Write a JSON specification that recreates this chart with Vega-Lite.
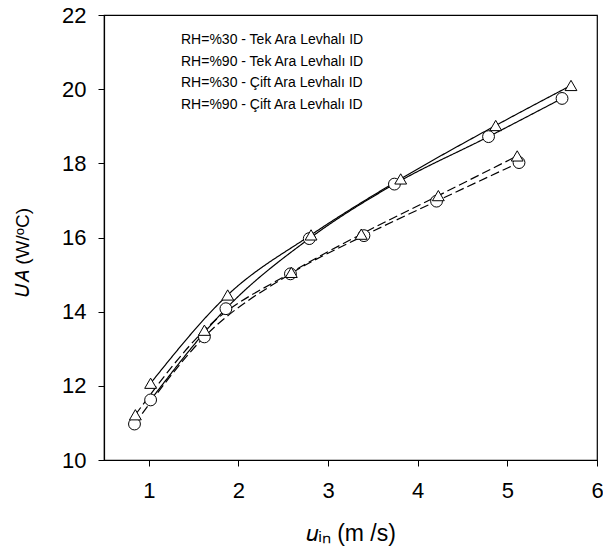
{
  "$schema": "https://vega.github.io/schema/vega-lite/v6.json",
  "width": 493,
  "height": 445,
  "autosize": {"type": "none"},
  "padding": {"left": 104, "top": 15, "right": 6, "bottom": 97},
  "background": "white",
  "config": {
    "font": "Liberation Sans",
    "view": {"stroke": "black", "strokeWidth": 1.2},
    "axis": {
      "grid": false,
      "domainColor": "black",
      "domainWidth": 1.2,
      "tickColor": "black",
      "tickWidth": 1,
      "tickSize": 6,
      "labelColor": "black",
      "titleColor": "black",
      "labelFont": "Liberation Sans",
      "titleFont": "Liberation Sans",
      "labelFontSize": 22,
      "titleFontWeight": "normal",
      "labelFlush": false,
      "labelOverlap": false
    }
  },
  "data": {
    "values": [
      {"series": "RH=%30 - Tek Ara Levhalı ID", "u": 1.02, "ua": 11.62},
      {"series": "RH=%30 - Tek Ara Levhalı ID", "u": 1.86, "ua": 14.08},
      {"series": "RH=%30 - Tek Ara Levhalı ID", "u": 2.79, "ua": 15.97},
      {"series": "RH=%30 - Tek Ara Levhalı ID", "u": 3.74, "ua": 17.44},
      {"series": "RH=%30 - Tek Ara Levhalı ID", "u": 4.79, "ua": 18.72},
      {"series": "RH=%30 - Tek Ara Levhalı ID", "u": 5.61, "ua": 19.75},
      {"series": "RH=%90 - Tek Ara Levhalı ID", "u": 1.02, "ua": 12.07},
      {"series": "RH=%90 - Tek Ara Levhalı ID", "u": 1.88, "ua": 14.45},
      {"series": "RH=%90 - Tek Ara Levhalı ID", "u": 2.81, "ua": 16.07},
      {"series": "RH=%90 - Tek Ara Levhalı ID", "u": 3.81, "ua": 17.58},
      {"series": "RH=%90 - Tek Ara Levhalı ID", "u": 4.87, "ua": 19.02},
      {"series": "RH=%90 - Tek Ara Levhalı ID", "u": 5.71, "ua": 20.1},
      {"series": "RH=%30 - Çift Ara Levhalı ID", "u": 0.84, "ua": 10.97},
      {"series": "RH=%30 - Çift Ara Levhalı ID", "u": 1.62, "ua": 13.32},
      {"series": "RH=%30 - Çift Ara Levhalı ID", "u": 2.58, "ua": 15.02},
      {"series": "RH=%30 - Çift Ara Levhalı ID", "u": 3.4, "ua": 16.05},
      {"series": "RH=%30 - Çift Ara Levhalı ID", "u": 4.21, "ua": 16.98},
      {"series": "RH=%30 - Çift Ara Levhalı ID", "u": 5.13, "ua": 18.02},
      {"series": "RH=%90 - Çift Ara Levhalı ID", "u": 0.85, "ua": 11.22},
      {"series": "RH=%90 - Çift Ara Levhalı ID", "u": 1.62, "ua": 13.5},
      {"series": "RH=%90 - Çift Ara Levhalı ID", "u": 2.59, "ua": 15.06},
      {"series": "RH=%90 - Çift Ara Levhalı ID", "u": 3.37, "ua": 16.09},
      {"series": "RH=%90 - Çift Ara Levhalı ID", "u": 4.23, "ua": 17.13},
      {"series": "RH=%90 - Çift Ara Levhalı ID", "u": 5.11, "ua": 18.2}
    ]
  },
  "encoding": {
    "x": {
      "field": "u",
      "type": "quantitative",
      "scale": {"domain": [0.5, 6], "nice": false, "zero": false},
      "axis": {
        "values": [1, 2, 3, 4, 5, 6],
        "title": "𝑢ᵢₙ (m /s)",
        "titleFontSize": 23,
        "labelPadding": 14,
        "titlePadding": 21
      }
    },
    "y": {
      "field": "ua",
      "type": "quantitative",
      "scale": {"domain": [10, 22], "nice": false, "zero": false},
      "axis": {
        "values": [10, 12, 14, 16, 18, 20, 22],
        "title": "𝑈𝐴 (W/ᵒC)",
        "titleFontSize": 19,
        "titleY": 237,
        "labelPadding": 12,
        "titlePadding": 29
      }
    }
  },
  "layer": [
    {
      "mark": {"type": "line", "interpolate": "monotone", "color": "black", "strokeWidth": 1.2},
      "encoding": {
        "strokeDash": {
          "field": "series",
          "type": "nominal",
          "scale": {
            "domain": ["RH=%30 - Tek Ara Levhalı ID", "RH=%90 - Tek Ara Levhalı ID", "RH=%30 - Çift Ara Levhalı ID", "RH=%90 - Çift Ara Levhalı ID"],
            "range": [[1, 0], [1, 0], [9, 4], [9, 4]]
          },
          "legend": null
        }
      }
    },
    {
      "mark": {"type": "point", "filled": true, "fill": "white", "stroke": "black", "strokeWidth": 1, "size": 140, "opacity": 1},
      "encoding": {
        "shape": {
          "field": "series",
          "type": "nominal",
          "scale": {
            "domain": ["RH=%30 - Tek Ara Levhalı ID", "RH=%90 - Tek Ara Levhalı ID", "RH=%30 - Çift Ara Levhalı ID", "RH=%90 - Çift Ara Levhalı ID"],
            "range": ["circle", "triangle-up", "circle", "triangle-up"]
          },
          "legend": null
        }
      }
    },
    {
      "mark": {"type": "point", "filled": true, "fill": "white", "stroke": "black", "strokeWidth": 1, "size": 0, "opacity": 1},
      "encoding": {
        "shape": {
          "field": "series",
          "type": "nominal",
          "scale": {
            "domain": ["RH=%30 - Tek Ara Levhalı ID", "RH=%90 - Tek Ara Levhalı ID", "RH=%30 - Çift Ara Levhalı ID", "RH=%90 - Çift Ara Levhalı ID"],
            "range": [
              "M-4.2,0H-1M1,0H4.2M1,0A1,1,0,1,1,-1,0A1,1,0,1,1,1,0Z",
              "M-4.2,0.38H-0.75M0.75,0.38H4.2M-1,0.83L1,0.83L0,-1Z",
              "M-4.2,0H-2.6M1.4,0H3.4M1,0A1,1,0,1,1,-1,0A1,1,0,1,1,1,0Z",
              "M-4.2,0.38H-2.6M1.4,0.38H3.4M-1,0.83L1,0.83L0,-1Z"
            ]
          },
          "legend": {
            "title": null,
            "orient": "top-left",
            "offset": 18,
            "padding": 0,
            "labelFont": "Liberation Sans",
            "labelFontSize": 14,
            "labelColor": "black",
            "labelLimit": 400,
            "labelOffset": 26,
            "symbolOffset": 19,
            "rowPadding": 6,
            "symbolSize": 144,
            "symbolOpacity": 1,
            "symbolStrokeColor": "black",
            "symbolFillColor": "white",
            "symbolStrokeWidth": 1,
            "encode": {
              "symbols": {
                "stroke": {"value": "black"},
                "strokeWidth": {"value": 1},
                "fill": {"value": "white"},
                "opacity": {"value": 1},
                "size": {"value": 144}
              }
            }
          }
        }
      }
    }
  ],
  "resolve": {"scale": {"shape": "independent"}}
}
